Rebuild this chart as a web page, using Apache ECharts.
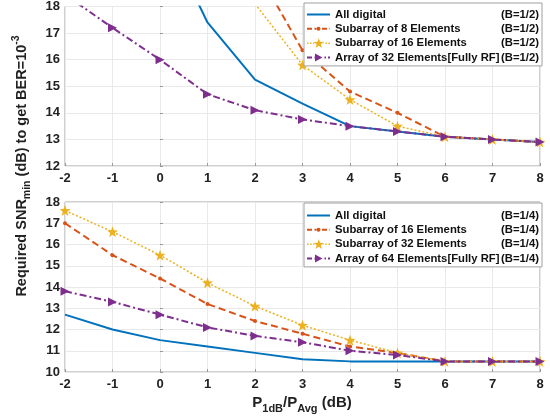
<!DOCTYPE html>
<html><head><meta charset="utf-8">
<script src="https://cdn.jsdelivr.net/npm/echarts@6/dist/echarts.min.js"></script>
<style>html,body{margin:0;padding:0;background:#fff}#c{width:550px;height:417px}</style>
</head><body><div id="c"></div>
<script>
// ---- data ----
const xValues = [-2, -1, 0, 1, 2, 3, 4, 5, 6, 7, 8];
const xTickLabels = ['-2','-1','0','1','2','3','4','5','6','7','8'];

const topNames = [
  'All digital (B=1/2)',
  'Subarray of 8 Elements (B=1/2)',
  'Subarray of 16 Elements (B=1/2)',
  'Array of 32 Elements[Fully RF] (B=1/2)'
];
const topDigital = [null, null, 21.1, 17.4, 15.25, 14.35, 13.5, 13.3, 13.1, 13.0, 12.9];
const topSub8    = [null, null, null, null, 19.5, 16.35, 14.8, 14.0, 13.1, 13.0, 12.9];
const topSub16   = [null, null, null, null, 18.1, 15.8, 14.5, 13.5, 13.1, 13.0, 12.9];
const topArray32 = [18.45, 17.2, 16.0, 14.7, 14.1, 13.75, 13.5, 13.3, 13.1, 13.0, 12.9];

const botNames = [
  'All digital (B=1/4)',
  'Subarray of 16 Elements (B=1/4)',
  'Subarray of 32 Elements (B=1/4)',
  'Array of 64 Elements[Fully RF] (B=1/4)'
];
const botDigital = [12.7, 12.0, 11.5, 11.2, 10.9, 10.6, 10.5, 10.5, 10.5, 10.5, 10.5];
const botSub16   = [17.0, 15.5, 14.4, 13.2, 12.4, 11.8, 11.2, 10.9, 10.5, 10.5, 10.5];
const botSub32   = [17.6, 16.6, 15.5, 14.2, 13.1, 12.2, 11.5, 10.9, 10.5, 10.5, 10.5];
const botArray64 = [13.8, 13.3, 12.7, 12.1, 11.7, 11.4, 11.0, 10.8, 10.5, 10.5, 10.5];

// ---- helpers ----
function pairs(ys) {
  const out = [];
  xValues.forEach((x, i) => { if (ys[i] != null) out.push([x, ys[i]]); });
  return out;
}
const FONT = '"Liberation Sans", Arial, sans-serif';
const C = { blue: '#0072BD', orange: '#D95319', yellow: '#EDB120', purple: '#7E2F8E' };
const STAR = 'path://M0,-10 L2.35,-3.24 L9.51,-3.09 L3.8,1.24 L5.88,8.09 L0,4 L-5.88,8.09 L-3.8,1.24 L-9.51,-3.09 L-2.35,-3.24 Z';

// legend icons: line pattern + marker as one filled path (23 x 10 box)
const IW = 23, CX = 11.5, CY = 5;
function dashRects(pattern, h, gapHalf) {
  let s = '', x = 0, i = 0;
  const seg = (a, b) => { if (b - a > 0.2) s += `M${a},${CY - h / 2}L${b},${CY - h / 2}L${b},${CY + h / 2}L${a},${CY + h / 2}Z`; };
  while (x < IW) {
    const len = pattern[i % pattern.length];
    if (i % 2 === 0) {
      const a = x, b = Math.min(IW, x + len);
      const g1 = CX - gapHalf, g2 = CX + gapHalf;
      if (gapHalf > 0 && b > g1 && a < g2) { seg(a, Math.min(b, g1)); seg(Math.max(a, g2), b); }
      else seg(a, b);
    }
    x += len; i++;
  }
  return s;
}
function starPath(cx, cy, R) {
  let s = '';
  for (let k = 0; k < 10; k++) {
    const r = k % 2 === 0 ? R : R * 0.4;
    const a = -Math.PI / 2 + k * Math.PI / 5;
    s += (k === 0 ? 'M' : 'L') + (cx + r * Math.cos(a)).toFixed(2) + ',' + (cy + r * Math.sin(a)).toFixed(2);
  }
  return s + 'Z';
}
const ICON_DIGITAL = 'path://' + dashRects([IW], 2, 0);
const ICON_ORANGE = 'path://' + dashRects([5, 2.5], 2, 2.2) + `M${CX - 2},${CY}A2,2 0 1,0 ${CX + 2},${CY}A2,2 0 1,0 ${CX - 2},${CY}Z`;
const ICON_YELLOW = 'path://' + dashRects([1.5, 1.5], 1.5, 4.5) + starPath(CX, CY + 0.3, 5.3);
const ICON_PURPLE = 'path://' + dashRects([5, 2, 1.5, 2], 2, 4) + `M${CX - 3.5},${CY - 4}L${CX + 4},${CY}L${CX - 3.5},${CY + 4}Z`;
const ICONS = [ICON_DIGITAL, ICON_ORANGE, ICON_YELLOW, ICON_PURPLE];

function mkSeries(kind, name, ys, gi) {
  const base = { type: 'line', name, data: pairs(ys), xAxisIndex: gi, yAxisIndex: gi, clip: true, animation: false, z: 2 };
  if (kind === 'digital') return Object.assign(base, { symbol: 'none', showSymbol: false,
    lineStyle: { color: C.blue, width: 2 }, itemStyle: { color: C.blue } });
  if (kind === 'orange') return Object.assign(base, { symbol: 'circle', symbolSize: 4,
    lineStyle: { color: C.orange, width: 2, type: [7, 4] }, itemStyle: { color: C.orange } });
  if (kind === 'yellow') return Object.assign(base, { symbol: STAR, symbolSize: 11,
    lineStyle: { color: C.yellow, width: 1.5, type: [2, 2] }, itemStyle: { color: C.yellow } });
  return Object.assign(base, { symbol: 'triangle', symbolSize: 9, symbolRotate: -90,
    lineStyle: { color: C.purple, width: 2, type: [7, 3, 2, 3] }, itemStyle: { color: C.purple } });
}

const gridL = 65, gridR = 10;
function xAx(gi) {
  return { type: 'value', gridIndex: gi, min: -2, max: 8, interval: 1,
    axisLine: { show: false }, axisTick: { show: true, inside: true, length: 3, lineStyle: { color: '#999' } },
    splitLine: { show: true, lineStyle: { color: '#e9e9e9', width: 1 } },
    axisLabel: { margin: 6, color: '#222', fontWeight: 'bold', fontSize: 13, fontFamily: FONT,
      formatter: v => xTickLabels[xValues.indexOf(v)] } };
}
function yAx(gi, mn, mx) {
  return { type: 'value', gridIndex: gi, min: mn, max: mx, interval: 1,
    axisLine: { show: false }, axisTick: { show: true, inside: true, length: 3, lineStyle: { color: '#999' } },
    splitLine: { show: true, lineStyle: { color: '#e9e9e9', width: 1 } },
    axisLabel: { margin: 5, color: '#222', fontWeight: 'bold', fontSize: 13, fontFamily: FONT } };
}
function legend(names, top, padTop) {
  return { orient: 'vertical', left: 304, top: top,
    data: names.map((n, i) => ({ name: n, icon: ICONS[i] })),
    itemWidth: 23, itemHeight: 10, itemGap: 3.3, padding: [padTop, 3, 3, 3], symbolKeepAspect: true,
    borderColor: '#a0a0a0', borderWidth: 1, backgroundColor: '#fff', z: 10,
    formatter: n => { const i = n.lastIndexOf(' ('); return '{n|' + n.slice(0, i) + '}{b|' + n.slice(i + 1) + '}'; },
    textStyle: { rich: {
      n: { fontFamily: FONT, fontWeight: 'bold', fontSize: 11.3, color: '#111', width: 160, lineHeight: 11 },
      b: { fontFamily: FONT, fontWeight: 'bold', fontSize: 11.3, color: '#111', width: 44, align: 'right', lineHeight: 11 }
    } } };
}

const tok = (s, w) => ({ fontFamily: FONT, fontWeight: 'bold', fontSize: s, fill: '#222', lineHeight: s, verticalAlign: w });

const option = {
  backgroundColor: '#fff',
  animation: false,
  grid: [
    { left: gridL, right: gridR, top: 4, height: 162, show: true, borderColor: '#a0a0a0', borderWidth: 1, backgroundColor: 'transparent' },
    { left: gridL, right: gridR, top: 202, height: 170, show: true, borderColor: '#a0a0a0', borderWidth: 1, backgroundColor: 'transparent' }
  ],
  xAxis: [xAx(0), xAx(1)],
  yAxis: [yAx(0, 12, 18), yAx(1, 10, 18)],
  legend: [legend(topNames, 3, 6), legend(botNames, 203, 7)],
  series: [
    mkSeries('digital', topNames[0], topDigital, 0),
    mkSeries('orange', topNames[1], topSub8, 0),
    mkSeries('yellow', topNames[2], topSub16, 0),
    mkSeries('purple', topNames[3], topArray32, 0),
    mkSeries('digital', botNames[0], botDigital, 1),
    mkSeries('orange', botNames[1], botSub16, 1),
    mkSeries('yellow', botNames[2], botSub32, 1),
    mkSeries('purple', botNames[3], botArray64, 1)
  ],
  graphic: [
    { type: 'text', x: 22, y: 166, rotation: Math.PI / 2, z: 20,
      style: { text: '{m|Required SNR}{s|min}{m| (dB) to get BER=10}{p|-3}', textAlign: 'center', textVerticalAlign: 'middle',
        rich: { m: Object.assign(tok(14.5, 'middle'), { lineHeight: 22 }), s: tok(10.5, 'bottom'), p: tok(10.5, 'top') } } },
    { type: 'text', x: 302, y: 403, z: 20,
      style: { text: '{m|P}{s|1dB}{m|/P}{s|Avg}{m| (dB)}', textAlign: 'center', textVerticalAlign: 'middle',
        rich: { m: Object.assign(tok(15, 'middle'), { lineHeight: 22 }), s: tok(11, 'bottom') } } }
  ]
};
const chart = echarts.init(document.getElementById('c'), null, { renderer: 'canvas' });
chart.setOption(option);
</script>
</body></html>
